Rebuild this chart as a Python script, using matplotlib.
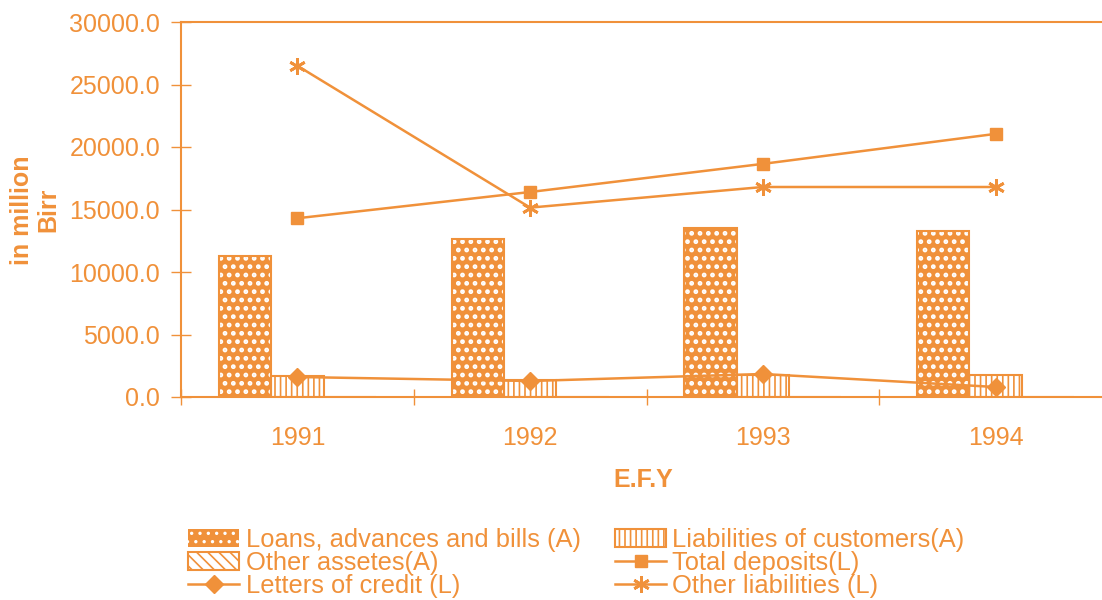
import matplotlib
matplotlib.use("Agg")
import matplotlib.pyplot as plt
from matplotlib.patches import Patch
import numpy as np

plt.rcParams['font.family'] = ['Liberation Sans', 'DejaVu Sans']
plt.rcParams['hatch.linewidth'] = 1.2

ORANGE = '#F0913A'

years = ['1991', '1992', '1993', '1994']
loans = [11300, 12650, 13500, 13300]
liab_customers = [1680, 1360, 1760, 1760]
other_assets = [0.0, 0.0, 0.0, 0.0]
total_deposits = [14300, 16400, 18650, 21050]
letters_credit = [1600, 1280, 1840, 800]
other_liabilities = [26500, 15150, 16800, 16800]

x = np.arange(len(years))
w = 0.225

fig = plt.figure(figsize=(11.02, 6.0), dpi=100)
ax = fig.add_axes([181 / 1102, 1 - 397 / 600, (1112 - 181) / 1102, (397 - 22) / 600])

# Loans: orange fill with white dots, orange outline
with plt.rc_context({'hatch.linewidth': 2.2}):
    ax.bar(x - w, loans, w, color=ORANGE, edgecolor='white', hatch='..', linewidth=0, zorder=2)
    loan_patch = Patch(facecolor=ORANGE, edgecolor='white', hatch='..', linewidth=0)
h_loans = ax.bar(x - w, loans, w, fill=False, edgecolor=ORANGE, linewidth=1.5, zorder=3)
# Liabilities of customers: vertical stripes
h_liab = ax.bar(x, liab_customers, w, facecolor='white', edgecolor=ORANGE, hatch='|||',
                linewidth=1.5, zorder=2)
# Other assets: diagonal stripes
h_oth = ax.bar(x + w, other_assets, w, facecolor='white', edgecolor=ORANGE, hatch='\\\\\\',
               linewidth=1.5, zorder=2)

h_dep, = ax.plot(x, total_deposits, color=ORANGE, lw=1.8, marker='s', ms=9, zorder=4)
h_loc, = ax.plot(x, letters_credit, color=ORANGE, lw=1.8, marker='D', ms=9, zorder=4)
h_ol, = ax.plot(x, other_liabilities, color=ORANGE, lw=1.8, marker=(6, 2, 0), ms=12,
                mew=2, zorder=4)

ax.set_xlim(-0.5, 3.5)
ax.set_ylim(0, 30000)
ax.set_yticks(np.arange(0, 30001, 5000))
ax.set_yticklabels([f'{v:.1f}' for v in np.arange(0, 30001, 5000)])
ax.set_xticks(x)
ax.set_xticklabels(years)
ax.set_xticks(np.arange(-0.5, 3.6, 1), minor=True)

for s in ['left', 'bottom', 'top', 'right']:
    ax.spines[s].set_color(ORANGE)
    ax.spines[s].set_linewidth(1.5)

ax.tick_params(axis='y', which='major', direction='inout', length=14, width=1,
               color=ORANGE, labelcolor=ORANGE, labelsize=18, pad=8)
ax.tick_params(axis='x', which='major', length=0, labelcolor=ORANGE, labelsize=18, pad=21)
ax.tick_params(axis='x', which='minor', direction='inout', length=12, width=1, color=ORANGE)

fig.text(35 / 1102, 1 - 210 / 600, 'in million\nBirr', rotation=90, ha='center', va='center',
         multialignment='center', color=ORANGE, fontsize=18, fontweight='bold',
         linespacing=1.1)
fig.text(643 / 1102, 1 - 480 / 600, 'E.F.Y', ha='center', va='center', color=ORANGE,
         fontsize=18, fontweight='bold')

handles = [loan_patch, h_oth, h_loc, h_liab, h_dep, h_ol]
labels = ['Loans, advances and bills (A)', 'Other assetes(A)', 'Letters of credit (L)',
          'Liabilities of customers(A)', 'Total deposits(L)', 'Other liabilities (L)']
leg = fig.legend(handles, labels, ncol=2, loc='center left',
                 bbox_to_anchor=(188 / 1102, 1 - 563 / 600), frameon=False,
                 fontsize=18.4, handlelength=2.0, handleheight=0.7, handletextpad=0.25,
                 labelspacing=-0.05, columnspacing=1.35, borderpad=0, borderaxespad=0)
for t in leg.get_texts():
    t.set_color(ORANGE)

fig.savefig('out.png', dpi=100, facecolor='white')
